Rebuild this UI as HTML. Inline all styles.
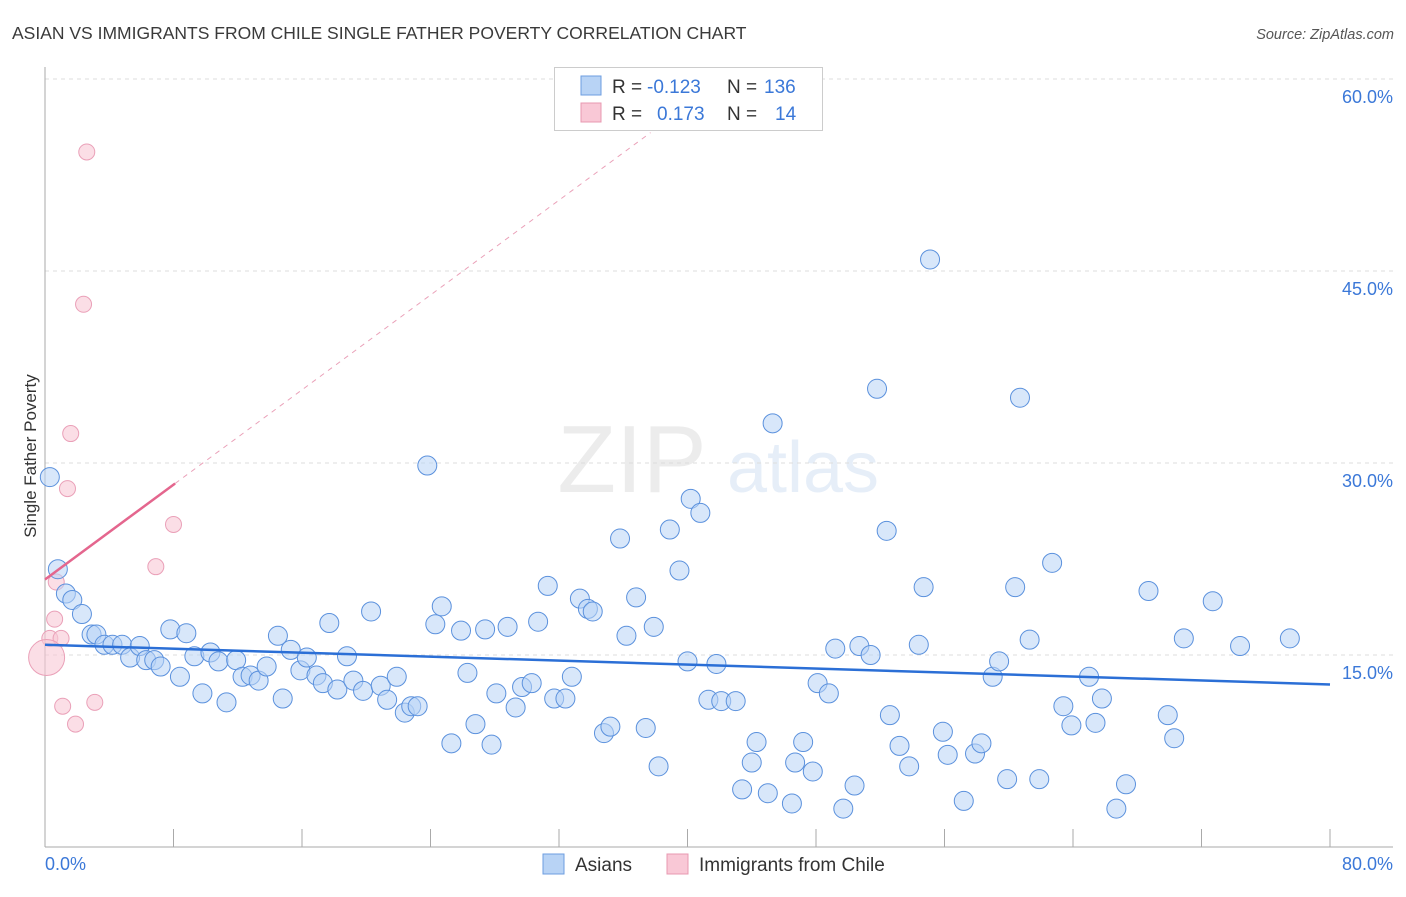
<!DOCTYPE html>
<html><head><meta charset="utf-8"><style>
body{margin:0;background:#fff;font-family:"Liberation Sans",sans-serif;}
svg text{font-family:"Liberation Sans",sans-serif;}
</style></head><body>
<svg id="chart" width="1406" height="892" xmlns="http://www.w3.org/2000/svg">
<text x="12" y="39" font-size="17.5" fill="#3a3a3a">ASIAN VS IMMIGRANTS FROM CHILE SINGLE FATHER POVERTY CORRELATION CHART</text>
<text x="1394" y="39" font-size="14.5" fill="#555" font-style="italic" text-anchor="end">Source: ZipAtlas.com</text>
<g opacity="0.18">
<text x="632" y="492" font-size="96" font-family="Liberation Serif" fill="#999" text-anchor="middle">ZIP</text>
<text x="803" y="492" font-size="72" fill="#7aa7dd" text-anchor="middle">atlas</text>
</g>
<g id="grid"></g>
<g id="axes"></g>
<g id="trends"></g>
<g id="points"></g>
<text x="36" y="456" font-size="17" fill="#333" text-anchor="middle" transform="rotate(-90 36 456)">Single Father Poverty</text>
<g>
<rect x="554.5" y="67.5" width="268" height="63" fill="#fff" stroke="#ccc"/>
<rect x="581" y="76" width="20" height="19" fill="#b8d3f5" stroke="#6d9ee0"/>
<rect x="581" y="103" width="20" height="19" fill="#f9c8d6" stroke="#e898b0"/>
<text x="612" y="93" font-size="19" fill="#333">R =</text>
<text x="647" y="93" font-size="19" fill="#3b78d8">-0.123</text>
<text x="727" y="93" font-size="19" fill="#333">N =</text>
<text x="764" y="93" font-size="19" fill="#3b78d8">136</text>
<text x="612" y="120" font-size="19" fill="#333">R =</text>
<text x="657" y="120" font-size="19" fill="#3b78d8">0.173</text>
<text x="727" y="120" font-size="19" fill="#333">N =</text>
<text x="775" y="120" font-size="19" fill="#3b78d8">14</text>
</g>
<g>
<rect x="543" y="854" width="21" height="20" fill="#b8d3f5" stroke="#6d9ee0"/>
<text x="575" y="871" font-size="19" fill="#333">Asians</text>
<rect x="667" y="854" width="21" height="20" fill="#f9c8d6" stroke="#e898b0"/>
<text x="699" y="871" font-size="19" fill="#333">Immigrants from Chile</text>
</g>
</svg>
<script>
const xTicks=[0,8,16,24,32,40,48,56,64,72,80];
const yTicks=[15,30,45,60];
const yTickLabels=["15.0%","30.0%","45.0%","60.0%"];
const xEndLabels=["0.0%","80.0%"];
const asianX=[0.3,0.8,1.3,1.7,2.3,2.9,3.2,3.7,4.2,4.8,5.3,5.9,6.3,6.8,7.2,7.8,8.4,8.8,9.3,9.8,10.3,10.8,11.3,11.9,12.3,12.8,13.3,13.8,14.5,14.8,15.3,15.9,16.3,16.9,17.3,17.7,18.2,18.8,19.2,19.8,20.3,20.9,21.3,21.9,22.4,22.8,23.2,23.8,24.3,24.7,25.3,25.9,26.3,26.8,27.4,27.8,28.1,28.8,29.3,29.7,30.3,30.7,31.3,31.7,32.4,32.8,33.3,33.8,34.1,34.8,35.2,35.8,36.2,36.8,37.4,37.9,38.2,38.9,39.5,40.0,40.2,40.8,41.3,41.8,42.1,43.0,43.4,44.0,44.3,45.0,45.3,46.5,46.7,47.2,47.8,48.1,48.8,49.2,49.7,50.4,50.7,51.4,51.8,52.4,52.6,53.2,53.8,54.4,54.7,55.1,55.9,56.2,57.2,57.9,58.3,59.0,59.4,59.9,60.4,60.7,61.3,61.9,62.7,63.4,63.9,65.0,65.4,65.8,66.7,67.3,68.7,69.9,70.3,70.9,72.7,74.4,77.5];
const asianY=[28.9,21.7,19.8,19.3,18.2,16.6,16.6,15.8,15.8,15.8,14.8,15.7,14.6,14.6,14.1,17.0,13.3,16.7,14.9,12.0,15.2,14.5,11.3,14.6,13.3,13.4,13.0,14.1,16.5,11.6,15.4,13.8,14.8,13.4,12.8,17.5,12.3,14.9,13.0,12.2,18.4,12.6,11.5,13.3,10.5,11.0,11.0,29.8,17.4,18.8,8.1,16.9,13.6,9.6,17.0,8.0,12.0,17.2,10.9,12.5,12.8,17.6,20.4,11.6,11.6,13.3,19.4,18.6,18.4,8.9,9.4,24.1,16.5,19.5,9.3,17.2,6.3,24.8,21.6,14.5,27.2,26.1,11.5,14.3,11.4,11.4,4.5,6.6,8.2,4.2,33.1,3.4,6.6,8.2,5.9,12.8,12.0,15.5,3.0,4.8,15.7,15.0,35.8,24.7,10.3,7.9,6.3,15.8,20.3,45.9,9.0,7.2,3.6,7.3,8.1,13.3,14.5,5.3,20.3,35.1,16.2,5.3,22.2,11.0,9.5,13.3,9.7,11.6,3.0,4.9,20.0,10.3,8.5,16.3,19.2,15.7,16.3];
const chileX=[2.6,2.4,1.6,1.4,8.0,6.9,0.7,0.6,0.3,1.0,0.1,1.1,3.1,1.9];
const chileY=[54.3,42.4,32.3,28.0,25.2,21.9,20.7,17.8,16.3,16.3,14.8,11.0,11.3,9.6];
const chileR=[8,8,8,8,8,8,8,8,8,8,18,8,8,8];
const asianTrend=[15.8,12.7]; // y at x=0 and x=80
const chileTrend=[20.9,0.926]; // intercept, slope
const chileSolidEnd=8.1, chileDashEnd=37.7;

const NS="http://www.w3.org/2000/svg";
const X0=45,X1=1330,Y0=847,Ypx=12.8;
const sx=v=>X0+(X1-X0)*v/80;
const sy=v=>Y0-v*Ypx;
function mk(tag,attrs,parent){const e=document.createElementNS(NS,tag);for(const k in attrs)e.setAttribute(k,attrs[k]);document.getElementById(parent).appendChild(e);return e;}

yTicks.forEach((t,i)=>{
  const g=mk('line',{x1:X0,x2:1393,y1:sy(t),y2:sy(t),stroke:'#ddd','stroke-dasharray':'4 4'},'grid');
  
  
  const l=mk('text',{x:1393,y:sy(t)+24,'font-size':18,fill:'#3b78d8','text-anchor':'end'},'grid');
  l.textContent=yTickLabels[i];
  
  
});
const ax=mk('line',{x1:X0,x2:X0,y1:67,y2:Y0,stroke:'#aaa'},'axes');


const bx=mk('line',{x1:X0,x2:1393,y1:Y0,y2:Y0,stroke:'#aaa'},'axes');


xTicks.forEach(t=>{
  const tk=mk('line',{x1:sx(t),x2:sx(t),y1:Y0,y2:Y0-18,stroke:'#aaa'},'axes');
  
  
});
const xl0=mk('text',{x:45,y:870,'font-size':18,fill:'#3b78d8'},'axes');xl0.textContent=xEndLabels[0];


const xl1=mk('text',{x:1393,y:870,'font-size':18,fill:'#3b78d8','text-anchor':'end'},'axes');xl1.textContent=xEndLabels[1];



chileX.forEach((x,i)=>{
  const c=mk('circle',{cx:sx(x),cy:sy(chileY[i]),r:chileR[i],fill:'#f9c8d6','fill-opacity':0.6,stroke:'#eaa0b8','stroke-width':1},'points');
  
  
});
asianX.forEach((x,i)=>{
  const c=mk('circle',{cx:sx(x),cy:sy(asianY[i]),r:9.5,fill:'#b8d3f5','fill-opacity':0.55,stroke:'#5b91dd','stroke-width':1},'points');
  
  
});
const bt=mk('line',{x1:sx(0),y1:sy(asianTrend[0]),x2:sx(80),y2:sy(asianTrend[1]),stroke:'#2b6fd6','stroke-width':2.5},'points');


const cd=mk('line',{x1:sx(chileSolidEnd),y1:sy(chileTrend[0]+chileTrend[1]*chileSolidEnd),x2:sx(chileDashEnd),y2:sy(chileTrend[0]+chileTrend[1]*chileDashEnd),stroke:'#eaa0b8','stroke-width':1,'stroke-dasharray':'5 5'},'trends');


const cs=mk('line',{x1:sx(0),y1:sy(chileTrend[0]),x2:sx(chileSolidEnd),y2:sy(chileTrend[0]+chileTrend[1]*chileSolidEnd),stroke:'#e4668e','stroke-width':2.5},'points');


</script>
</body></html>
